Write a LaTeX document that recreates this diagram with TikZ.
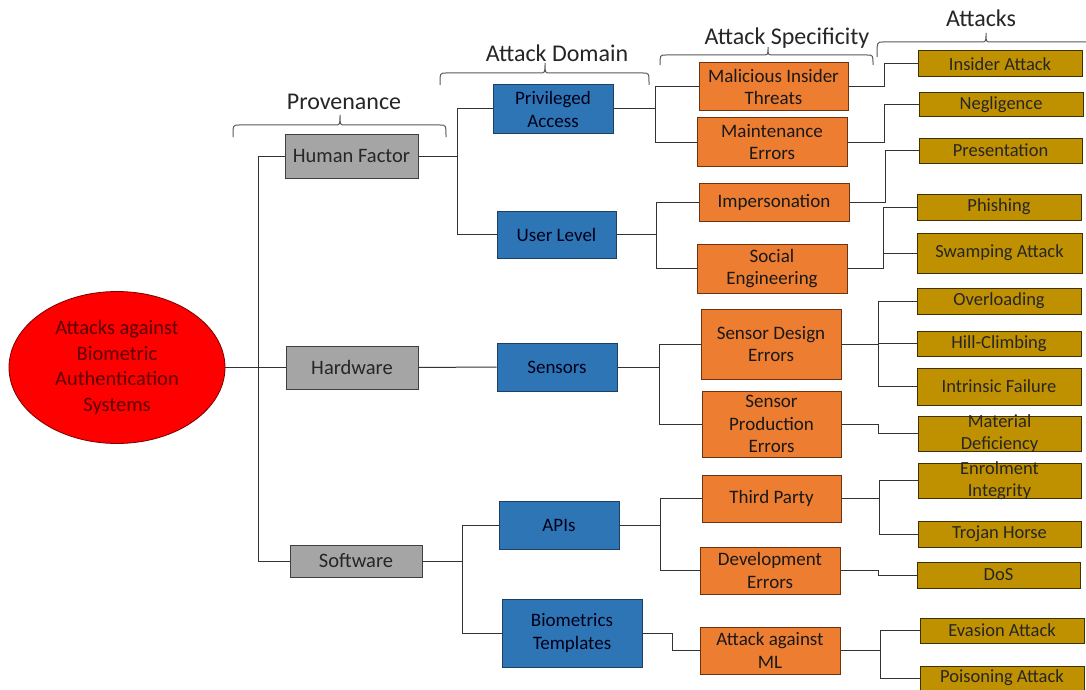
\documentclass[tikz,border=0pt]{standalone}
\usepackage{fontspec}
\setmainfont{Carlito}
\usetikzlibrary{fit,shapes.geometric}

\definecolor{provfill}{HTML}{A5A5A5}
\definecolor{provline}{HTML}{404040}
\definecolor{domfill}{HTML}{2E75B6}
\definecolor{domline}{HTML}{1F3E63}
\definecolor{specfill}{HTML}{ED7D31}
\definecolor{specline}{HTML}{6B3410}
\definecolor{attfill}{HTML}{BF9000}
\definecolor{attline}{HTML}{3F3200}
\definecolor{rootfill}{HTML}{FF0000}
\definecolor{rootline}{HTML}{7A0000}
\definecolor{roottext}{HTML}{5C0000}
\definecolor{connc}{HTML}{333333}
\definecolor{headc}{HTML}{262626}
\definecolor{bracec}{HTML}{5A5A5A}

\tikzset{
  boxbase/.style={rectangle, inner sep=0pt, line width=1pt},
  prov/.style={boxbase, draw=provline, fill=provfill},
  dom/.style={boxbase, draw=domline, fill=domfill},
  spec/.style={boxbase, draw=specline, fill=specfill},
  att/.style={boxbase, draw=attline, fill=attfill},
  provtxt/.style={align=center, inner sep=0pt, text=headc, font=\fontsize{20.5}{24}\selectfont},
  domtxt/.style={align=center, inner sep=0pt, text=black!90!blue, font=\fontsize{19}{23}\selectfont},
  spectxt/.style={align=center, inner sep=0pt, text=black!90, font=\fontsize{19}{22.5}\selectfont},
  atttxt/.style={align=center, inner sep=0pt, text=headc, font=\fontsize{18.5}{22}\selectfont},
  conn/.style={draw=connc, line width=1pt},
  heading/.style={inner sep=0pt, text=headc, font=\fontsize{24}{28}\selectfont},
  bracestyle/.style={draw=bracec, line width=1pt}
}

% box of a given kind between two corners, with its text centred on it
\newcommand\bx[7]{%
  \node[#1, fit={(#3,#4) (#5,#6)}] (#2) {};
  \node[#1txt] (#2-t) at (#2.center) {#7};}

% flat curly brace: ends x1,x2, tip at xm; ybot end height, yline flat part, ytip tip
\newcommand\flatbrace[6]{%
  \draw[bracestyle] (#1,#4) .. controls (#1,#5) .. ({#1+6},#5) -- ({#3-5},#5)
    .. controls (#3,#5) .. (#3,#6) .. controls (#3,#5) .. ({#3+5},#5)
    -- ({#2-6},#5) .. controls (#2,#5) .. (#2,#4);}

\begin{document}
\begin{tikzpicture}[x=1pt,y=-1pt]
\clip (0,0) rectangle (1086,690);
\fill[white] (0,0) rectangle (1086,690);

% ---- headings with braces ----
\flatbrace{233}{446}{340}{137}{125}{115}
\node[heading] (h-prov) at (344,102) {Provenance};
\flatbrace{440}{649}{545}{85}{73}{63}
\node[heading] (h-dom) at (557,53) {Attack Domain};
\flatbrace{660}{873}{768}{65}{55}{47}
\node[heading] (h-spec) at (787,38) {Attack Specificity};
\flatbrace{877}{1100}{986}{57}{42}{33}
\node[heading] (h-att) at (981,18) {Attacks};

% ---- root ----
\node[ellipse, draw=rootline, fill=rootfill, line width=0.8pt,
      minimum width=216pt, minimum height=152pt, inner sep=0pt] (root) at (117,367.5) {};
\node[align=center, inner sep=0pt, text=roottext, font=\fontsize{20.5}{25.5}\selectfont]
  (root-t) at (root.center) {Attacks against\\Biometric\\Authentication\\Systems};

% ---- provenance ----
\bx{prov}{hf}{285}{134}{418}{178}{Human Factor}
\bx{prov}{hw}{286}{346}{418}{389}{Hardware}
\bx{prov}{sw}{290}{545}{422}{577}{Software}

% ---- attack domain ----
\bx{dom}{pa}{493}{85}{613}{133}{Privileged\\Access}
\bx{dom}{ul}{497}{211}{616}{258}{User Level}
\bx{dom}{se}{497}{343}{617}{391}{Sensors}
\bx{dom}{api}{499}{501}{619}{549}{APIs}
\bx{dom}{bt}{502}{599}{642}{667}{Biometrics\\Templates}

% ---- attack specificity ----
\bx{spec}{mit}{699}{63}{848}{111}{Malicious Insider\\Threats}
\bx{spec}{me}{697}{118}{847}{166}{Maintenance\\Errors}
\bx{spec}{imp}{699}{183}{849}{221}{Impersonation}
\bx{spec}{soc}{697}{244}{847}{293}{Social\\Engineering}
\bx{spec}{sde}{701}{309}{841}{379}{Sensor Design\\Errors}
\bx{spec}{spe}{702}{391}{841}{457}{Sensor\\Production\\Errors}
\bx{spec}{tp}{702}{475}{841}{522}{Third Party}
\bx{spec}{de}{700}{547}{840}{594}{Development\\Errors}
\bx{spec}{aml}{700}{627}{840}{674}{Attack against\\ML}

% ---- attacks ----
\bx{att}{ins}{918}{51}{1082}{77}{Insider Attack}
\bx{att}{neg}{919}{93}{1083}{117}{Negligence}
\bx{att}{pre}{919}{138}{1082}{163}{Presentation}
\bx{att}{phi}{917}{194}{1081}{220}{Phishing}
\bx{att}{swa}{917}{233}{1082}{273}{Swamping Attack}
\bx{att}{ovl}{917}{288}{1081}{314}{Overloading}
\bx{att}{hil}{917}{331}{1081}{356}{Hill-Climbing}
\bx{att}{inf}{917}{368}{1081}{405}{Intrinsic Failure}
\bx{att}{mat}{918}{416}{1081}{451}{Material\\Deficiency}
\bx{att}{enr}{918}{463}{1081}{498}{Enrolment\\Integrity}
\bx{att}{tro}{918}{521}{1081}{547}{Trojan Horse}
\bx{att}{dos}{917}{562}{1080}{588}{DoS}
\bx{att}{eva}{920}{618}{1084}{643}{Evasion Attack}
\bx{att}{poi}{920}{666}{1084}{690}{Poisoning Attack}

% ---- bus positions ----
\coordinate (bus0) at (258,0);
\coordinate (bus-hf) at (457,0);
\coordinate (bus-sw) at (462,0);
\coordinate (bus-pa) at (655,0);
\coordinate (bus-ul) at (656,0);
\coordinate (bus-se) at (659,0);
\coordinate (bus-api) at (660,0);
\coordinate (bus-bt) at (672,0);
\coordinate (bus-mit) at (884,0);
\coordinate (bus-me) at (884,0);
\coordinate (bus-imp) at (885,0);
\coordinate (bus-soc) at (883,0);
\coordinate (bus-sde) at (878,0);
\coordinate (bus-spe) at (878,0);
\coordinate (bus-tp) at (879,0);
\coordinate (bus-de) at (878,0);
\coordinate (bus-aml) at (880,0);

% ---- connectors ----
\draw[conn] (root) -- (hw);
\draw[conn] (hf.west) -- (hf.west -| bus0) |- (sw.west);

\foreach \p/\c in {hf/pa, hf/ul, sw/api, sw/bt, pa/mit, pa/me, ul/imp, ul/soc,
                   se/sde, se/spe, api/tp, api/de, bt/aml,
                   mit/ins, me/neg, imp/pre, soc/phi, soc/swa,
                   sde/ovl, sde/hil, sde/inf, spe/mat, tp/enr, tp/tro, de/dos,
                   aml/eva, aml/poi}
  \draw[conn] (\p.east) -- (\p.east -| bus-\p) |- (\c.west);
\draw[conn] (hw) -- (se);
\end{tikzpicture}
\end{document}
